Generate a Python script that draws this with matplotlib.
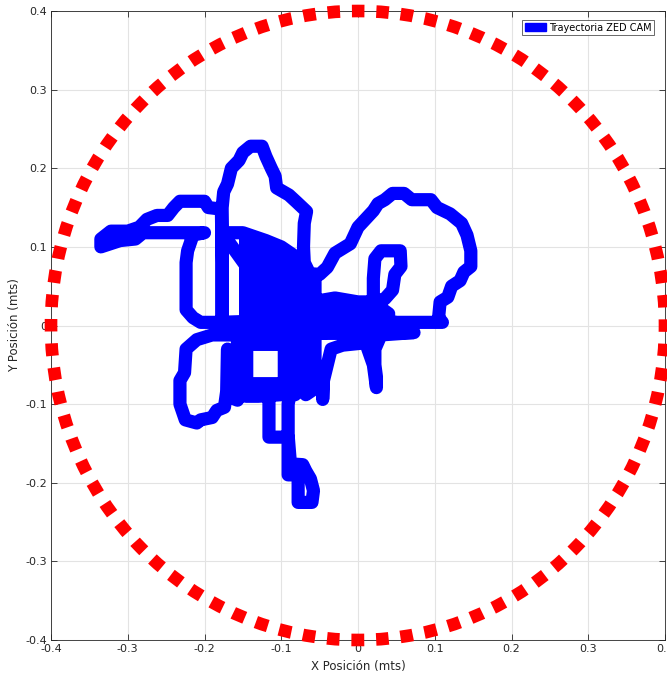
import numpy as np
import matplotlib
matplotlib.use('Agg')
import matplotlib.pyplot as plt
from matplotlib.patches import Patch, Circle

plt.rcParams['font.family'] = ['DejaVu Sans']
plt.rcParams['lines.scale_dashes'] = False

# trajectory (metres), one piece after another
lazo_izq = [(-0.05, 0.00), (-0.08, 0.005), (-0.12, 0.005), (-0.15, 0.005), (-0.18, 0.004), (-0.205, 0.004),
            (-0.215, 0.01), (-0.224, 0.02), (-0.224, 0.05), (-0.224, 0.08), (-0.222, 0.095),
            (-0.215, 0.115), (-0.20, 0.118)]
brazo_izq = [(-0.23, 0.118), (-0.26, 0.118), (-0.28, 0.118), (-0.29, 0.11), (-0.31, 0.108), (-0.335, 0.10),
             (-0.335, 0.11), (-0.322, 0.12), (-0.30, 0.12), (-0.285, 0.125), (-0.275, 0.135), (-0.262, 0.14),
             (-0.248, 0.14), (-0.24, 0.15), (-0.232, 0.158), (-0.20, 0.158), (-0.195, 0.15), (-0.178, 0.148),
             (-0.177, 0.08), (-0.177, 0.01), (-0.177, 0.10), (-0.177, 0.15)]
corona = [(-0.175, 0.17), (-0.17, 0.18), (-0.165, 0.20), (-0.155, 0.21), (-0.15, 0.22), (-0.14, 0.228),
          (-0.125, 0.228), (-0.12, 0.215), (-0.113, 0.20), (-0.108, 0.19), (-0.106, 0.175), (-0.09, 0.166),
          (-0.08, 0.157), (-0.067, 0.145), (-0.07, 0.13), (-0.071, 0.10), (-0.07, 0.08), (-0.063, 0.066),
          (-0.05, 0.065), (-0.04, 0.074)]
lazo_der = [(-0.03, 0.092), (-0.01, 0.104), (0.00, 0.125), (0.02, 0.146), (0.026, 0.155), (0.035, 0.16),
            (0.045, 0.168), (0.06, 0.168), (0.07, 0.16), (0.095, 0.16), (0.103, 0.15), (0.12, 0.142),
            (0.135, 0.13), (0.142, 0.115), (0.147, 0.095), (0.147, 0.075), (0.138, 0.068), (0.133, 0.057),
            (0.122, 0.05), (0.117, 0.036), (0.107, 0.03), (0.105, 0.01), (0.11, 0.004), (0.08, 0.004),
            (0.05, 0.004), (0.03, 0.008)]
lazo_int = [(0.02, 0.03), (0.02, 0.06), (0.022, 0.085), (0.03, 0.095), (0.055, 0.095), (0.056, 0.075),
            (0.048, 0.065), (0.045, 0.045), (0.035, 0.034), (0.02, 0.03), (0.00, 0.03), (-0.03, 0.035),
            (-0.06, 0.03)]
centro = [(-0.05, 0.022), (0.03, 0.022), (0.04, 0.015), (-0.05, 0.012), (-0.05, 0.00), (0.03, 0.00),
          (-0.05, -0.01), (0.00, -0.01), (0.04, -0.009), (0.073, -0.009), (0.03, -0.012), (0.022, -0.03),
          (0.022, -0.05), (0.024, -0.065), (0.024, -0.079), (0.02, -0.05), (0.01, -0.022), (-0.02, -0.025),
          (-0.035, -0.03), (-0.04, -0.05), (-0.045, -0.07), (-0.046, -0.094), (-0.046, -0.07),
          (-0.055, -0.05), (-0.068, -0.075)]
cola = [(-0.116, -0.08), (-0.116, -0.11), (-0.116, -0.142), (-0.091, -0.142), (-0.091, -0.176),
        (-0.091, -0.19), (-0.078, -0.19), (-0.078, -0.21), (-0.078, -0.225), (-0.06, -0.225),
        (-0.058, -0.21), (-0.062, -0.195), (-0.068, -0.185), (-0.072, -0.177), (-0.088, -0.176),
        (-0.091, -0.14), (-0.091, -0.10), (-0.088, -0.085)]
lazo_abajo = [(-0.09, -0.01), (-0.10, -0.012), (-0.13, -0.012), (-0.16, -0.012), (-0.19, -0.012),
              (-0.21, -0.018), (-0.224, -0.03), (-0.226, -0.06), (-0.232, -0.07), (-0.232, -0.10),
              (-0.225, -0.12), (-0.21, -0.124), (-0.205, -0.12), (-0.19, -0.117), (-0.184, -0.108),
              (-0.174, -0.104), (-0.171, -0.083), (-0.17, -0.03)]
relleno = [(-0.17, -0.09), (-0.157, -0.095), (-0.157, 0.00), (-0.146, 0.00), (-0.146, 0.11),
           (-0.146, -0.09), (-0.13, -0.09), (-0.10, -0.088), (-0.096, -0.074), (-0.145, -0.074),
           (-0.145, -0.024), (-0.096, -0.024), (-0.096, -0.074), (-0.082, -0.088), (-0.082, 0.085),
           (-0.096, 0.09), (-0.096, -0.01), (-0.11, -0.01), (-0.11, 0.10), (-0.124, 0.105),
           (-0.124, -0.012), (-0.135, -0.012), (-0.135, 0.11), (-0.135, 0.03), (-0.068, -0.02),
           (-0.068, 0.07), (-0.056, 0.06), (-0.056, -0.08), (-0.068, -0.088), (-0.068, -0.03)]
brazo_fin = [(-0.177, 0.118), (-0.15, 0.118), (-0.12, 0.108), (-0.10, 0.10), (-0.085, 0.09), (-0.07, 0.075)]

tramos = [lazo_izq, brazo_izq, corona, lazo_der, lazo_int, centro, cola, lazo_abajo, relleno, brazo_fin]
radio = 0.4
ticks = [-0.4, -0.3, -0.2, -0.1, 0, 0.1, 0.2, 0.3, 0.4]
tick_labels = ['-0.4', '-0.3', '-0.2', '-0.1', '0', '0.1', '0.2', '0.3', '0.4']

puntos = np.array([p for t in tramos for p in t])

fig = plt.figure(figsize=(6.67, 6.76), dpi=100)
ax = fig.add_axes([51 / 667, 36 / 676, 614 / 667, 629 / 676])

ax.plot(puntos[:, 0], puntos[:, 1], color='#0000ff', lw=9.5,
        solid_joinstyle='round', solid_capstyle='round', zorder=3)

# 80 dashes around the circle, one centred on each axis point
circ = Circle((0, 0), radio, fill=False, edgecolor='#ff0000', lw=9.1,
              linestyle=(4.5, (9.0, 8.57)), capstyle='butt', clip_on=False, zorder=4)
ax.add_patch(circ)

ax.set_xlim(-0.4, 0.4)
ax.set_ylim(-0.4, 0.4)
ax.set_xticks(ticks)
ax.set_xticklabels(tick_labels)
ax.set_yticks(ticks)
ax.set_yticklabels(tick_labels)
ax.grid(True, color='#e3e3e3', lw=0.8)
ax.set_axisbelow(True)
ax.tick_params(direction='in', length=4, width=0.6, colors='#262626', labelsize=8,
               top=True, right=True, pad=3)
for s in ax.spines.values():
    s.set_color('#262626')
    s.set_linewidth(0.6)

ax.set_xlabel('X Posición (mts)', fontsize=8.5, color='#262626', labelpad=4)
ax.set_ylabel('Y Posición (mts)', fontsize=8.5, color='#262626', labelpad=3)

leg = ax.legend(handles=[Patch(facecolor='#0000ff', edgecolor='#0000ff', label='Trayectoria ZED CAM')],
                loc='upper right', fontsize=7, frameon=True, fancybox=False,
                edgecolor='#262626', handlelength=2.2, handleheight=0.9,
                borderpad=0.25, handletextpad=0.3, bbox_to_anchor=(0.99, 0.993))
leg.get_frame().set_linewidth(0.6)

plt.savefig('out.png', dpi=100)
